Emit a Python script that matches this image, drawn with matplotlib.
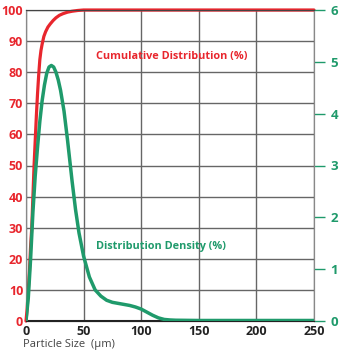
import matplotlib
matplotlib.use("Agg")
import matplotlib.pyplot as plt

# Particle size (µm) and cumulative distribution (%)
cum_x = [0, 1, 2, 3, 3.5, 4, 5, 6, 7, 8, 9, 10, 11, 12, 13, 14, 15.5, 17, 19, 21, 23.5, 26, 29, 32, 36, 40, 45, 50, 60, 100, 150, 200, 250]
cum_y = [0, 4, 10, 16, 20, 24, 30, 40, 50, 58, 66, 73, 79, 84, 87, 89, 91.5, 93, 94.5, 95.5, 96.6, 97.5, 98.3, 98.8, 99.3, 99.6, 99.85, 100, 100, 100, 100, 100, 100]

# Particle size (µm) and distribution density (%)
den_x = [0, 2, 4, 6, 8, 10, 12, 14, 16, 18, 20, 22, 24, 26, 28, 30, 33, 36, 40, 43, 46, 50, 55, 60, 65, 70, 75, 80, 85, 90, 95, 100, 105, 110, 115, 120, 125, 130, 150, 200, 250]
den_y = [0, 0.45, 1.2, 2.1, 2.8, 3.35, 3.85, 4.25, 4.55, 4.78, 4.9, 4.93, 4.9, 4.8, 4.65, 4.45, 4.05, 3.5, 2.7, 2.15, 1.7, 1.25, 0.85, 0.6, 0.48, 0.4, 0.36, 0.34, 0.32, 0.3, 0.27, 0.23, 0.17, 0.11, 0.06, 0.03, 0.02, 0.015, 0.01, 0.01, 0.01]

x_ticks = [0, 50, 100, 150, 200, 250]
left_ticks = [0, 10, 20, 30, 40, 50, 60, 70, 80, 90, 100]
right_ticks = [0, 1, 2, 3, 4, 5, 6]

RED = "#e8262d"
GREEN = "#1f9a6b"
GRID = "#666666"

plt.rcParams['font.family'] = ['Open Sans', 'DejaVu Sans']

fig = plt.figure(figsize=(3.52, 3.53), dpi=100)
ax = fig.add_axes([26/352, 1 - 321/353, (314-26)/352, (321-10)/353])
ax2 = ax.twinx()

ax.set_xlim(0, 250)
ax.set_ylim(0, 100)
ax2.set_ylim(0, 6)

ax.set_xticks(x_ticks)
ax.set_yticks(left_ticks)
ax2.set_yticks(right_ticks)

ax.grid(True, color=GRID, lw=1.0)
ax.set_axisbelow(True)

ax.plot(cum_x, cum_y, color=RED, lw=2.3, solid_capstyle='round', zorder=3, clip_on=False)
ax2.plot(den_x, den_y, color=GREEN, lw=2.5, solid_capstyle='round', zorder=3)

for a in (ax, ax2):
    a.spines['left'].set_color('#888888')
    a.spines['right'].set_color('#888888')
    a.spines['top'].set_color('#444444')
    a.spines['bottom'].set_color('#222222')
ax.spines['bottom'].set_linewidth(1.5)

ax.tick_params(axis='y', length=0, pad=2, labelcolor=RED, labelsize=9)
for t in ax.get_yticklabels():
    t.set_fontweight('bold')
ax.tick_params(axis='x', length=0, pad=3, labelcolor='#222222', labelsize=9)
for t in ax.get_xticklabels():
    t.set_fontweight('bold')
ax2.tick_params(axis='y', length=8, width=1, color=GREEN, pad=4, labelcolor=GREEN, labelsize=9.5)
for t in ax2.get_yticklabels():
    t.set_fontweight('bold')

fig.text(172/352, 1 - 57/353, "Cumulative Distribution (%)", color=RED, fontsize=7.8,
         fontweight='bold', ha='center', va='center')
fig.text(161/352, 1 - 246/353, "Distribution Density (%)", color=GREEN, fontsize=7.8,
         fontweight='bold', ha='center', va='center')
fig.text(23/352, 1 - 345/353, "Particle Size  (µm)", color='#444444', fontsize=8,
         ha='left', va='center')

fig.savefig("out.png", dpi=100)
